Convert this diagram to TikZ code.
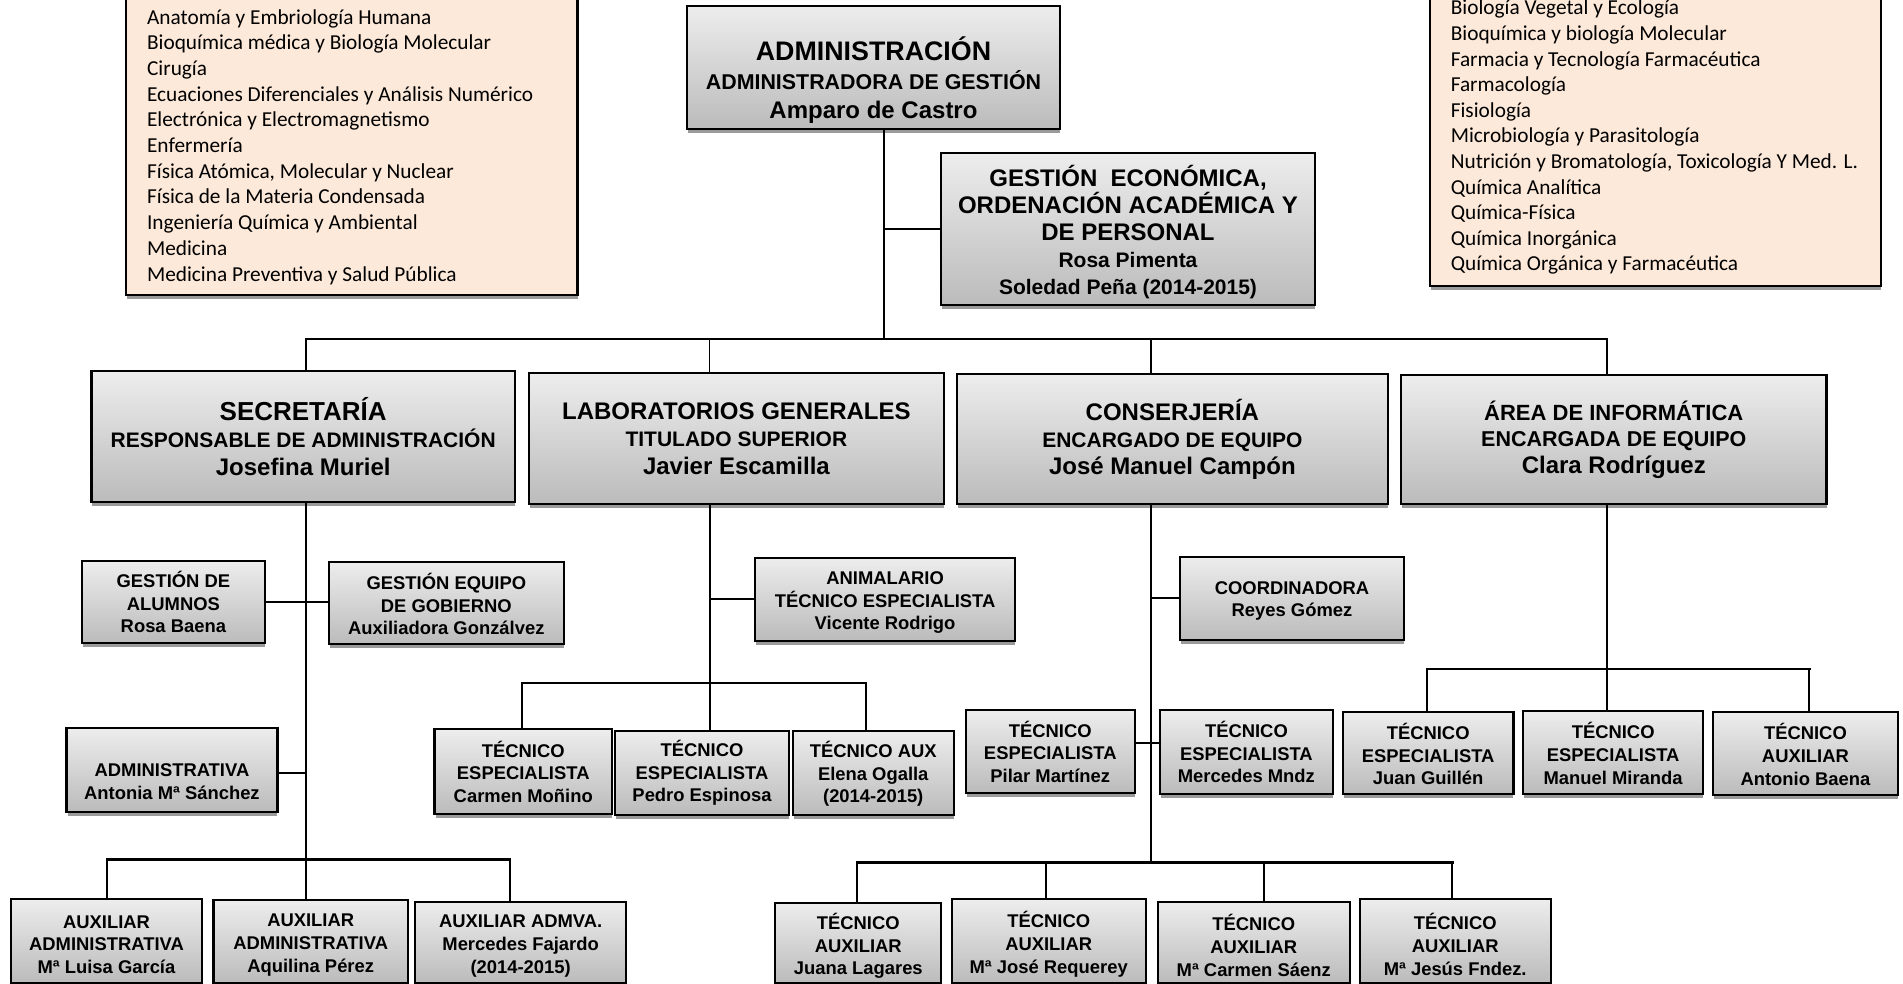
\documentclass[tikz,border=0pt]{standalone}
\usepackage{fontspec}
\setmainfont{Liberation Sans}
\newfontfamily\calibfont{Carlito}
\definecolor{peach}{HTML}{FDE9D9}
\definecolor{boxtop}{HTML}{EDEDED}
\definecolor{boxbot}{HTML}{BBBBBB}
\definecolor{shadowc}{HTML}{9A9A9A}
\newcommand{\SzTxt}[2]{{\fontsize{#1}{#1}\selectfont #2}}
% [text shift]{name}{x1}{y1}{x2}{y2}{text style}{text}
\newcommand{\orgnode}[8][0]{%
  \fill[shadowc] (#3+1,#6) rectangle (#5,#6+4);
  \node[orgbox, minimum width={#5-#3}, minimum height={#6-#4}] (#2) at ({(#3+#5)/2},{(#4+#6)/2}) {};
  \node[#7] (#2-t) at ({(#3+#5)/2},{(#4+#6)/2+#1}) {#8};
}
\tikzset{
  orgbox/.style={rectangle, draw=black, line width=2.2pt, top color=boxtop, bottom color=boxbot, inner sep=0pt},
  bigtext/.style={inner sep=0pt, align=center, font=\bfseries\fontsize{21}{27.5}\selectfont},
  smalltext/.style={inner sep=0pt, align=center, font=\bfseries\fontsize{18.4}{22.7}\selectfont},
  listbox/.style={rectangle, draw=black, line width=2.2pt, fill=peach, inner sep=0pt},
  conn/.style={line width=1.9pt, line cap=rect},
  busln/.style={line width=2.6pt, line cap=rect},
  listtext/.style={font=\calibfont\fontsize{21.3}{25.7}\selectfont, anchor=base west, inner sep=0pt},
}
\begin{document}
\begin{tikzpicture}[x=1pt,y=-1pt]
\useasboundingbox (0,0) rectangle (1903,984);
\fill[white] (0,0) rectangle (1903,984);

% peach lists
\fill[shadowc] (126.7,295) rectangle (577.5,299);
\node[listbox, minimum width=451.8, minimum height=325] (leftlist) at (351.6,132.5) {};
\foreach \t [count=\i] in {Anatomía y Embriología Humana, Bioquímica médica y Biología Molecular, Cirugía, Ecuaciones Diferenciales y Análisis Numérico, Electrónica y Electromagnetismo, Enfermería, {Física Atómica, Molecular y Nuclear}, Física de la Materia Condensada, Ingeniería Química y Ambiental, Medicina, Medicina Preventiva y Salud Pública}
  \node[listtext] (la\i) at (146.9,{24.1+25.7*(\i-1)}) {\t};

\fill[shadowc] (1430.8,286) rectangle (1881,290);
\node[listbox, minimum width=451.2, minimum height=316] (rightlist) at (1655.4,128) {};
\foreach \t [count=\i] in {Biología Vegetal y Ecología, Bioquímica y biología Molecular, Farmacia y Tecnología Farmacéutica, Farmacología, Fisiología, Microbiología y Parasitología, {Nutrición y Bromatología, Toxicología Y Med. L.}, Química Analítica, Química-Física, Química Inorgánica, Química Orgánica y Farmacéutica}
  \node[listtext] (ra\i) at (1450.6,{14.9+25.6*(\i-1)}) {\t};

% top level
\orgnode[13]{admin}{687}{6}{1060}{129}{bigtext, font=\bfseries\fontsize{21.4}{29}\selectfont}{\SzTxt{26.8}{ADMINISTRACIÓN}\\ ADMINISTRADORA DE GESTIÓN\\ \SzTxt{24}{Amparo de Castro}}
\orgnode[3]{gest}{941}{153}{1315}{305}{bigtext, font=\bfseries\fontsize{24}{27}\selectfont}{GESTIÓN\ \ ECONÓMICA,\\ ORDENACIÓN ACADÉMICA Y\\ DE PERSONAL\\ \SzTxt{21}{Rosa Pimenta}\\ \SzTxt{21}{Soledad Peña (2014-2015)}}

% second level
\orgnode{sec}{91.4}{371}{515}{502}{bigtext, font=\bfseries\fontsize{21}{27.6}\selectfont}{\SzTxt{26}{SECRETARÍA}\\ RESPONSABLE DE ADMINISTRACIÓN\\ \SzTxt{24}{Josefina Muriel}}
\orgnode{lab}{529.2}{373}{943.6}{504}{bigtext}{\SzTxt{24}{LABORATORIOS GENERALES}\\ TITULADO SUPERIOR\\ \SzTxt{24}{Javier Escamilla}}
\orgnode{cons}{957}{374}{1387.7}{504}{bigtext, font=\bfseries\fontsize{21}{27}\selectfont}{\SzTxt{24}{CONSERJERÍA}\\ ENCARGADO DE EQUIPO\\ \SzTxt{24}{José Manuel Campón}}
\orgnode{area}{1401}{375}{1826.5}{504}{bigtext, font=\bfseries\fontsize{21.5}{26.5}\selectfont}{\SzTxt{22}{ÁREA DE INFORMÁTICA}\\ ENCARGADA DE EQUIPO\\ \SzTxt{24}{Clara Rodríguez}}

% small boxes
\orgnode{galum}{81.6}{561}{265.2}{643.3}{smalltext}{GESTIÓN DE\\ ALUMNOS\\ Rosa Baena}
\orgnode[1]{gequipo}{328.8}{561.7}{563.9}{644.3}{smalltext}{GESTIÓN EQUIPO\\ DE GOBIERNO\\ Auxiliadora Gonzálvez}
\orgnode[3.5]{anim}{755.2}{557.7}{1015}{640.7}{smalltext}{ANIMALARIO\\ TÉCNICO ESPECIALISTA\\ Vicente Rodrigo}
\orgnode[2.5]{coord}{1180}{556.7}{1404}{640}{smalltext}{COORDINADORA\\ Reyes Gómez}
\orgnode[12]{admva}{66.5}{728.3}{277.4}{811.7}{smalltext}{ADMINISTRATIVA\\ Antonia Mª Sánchez}
\orgnode{carmen}{434.5}{729.3}{612}{814}{smalltext}{TÉCNICO\\ ESPECIALISTA\\ Carmen Moñino}
\orgnode{pedro}{615.3}{730.7}{788.7}{815}{smalltext}{TÉCNICO\\ ESPECIALISTA\\ Pedro Espinosa}
\orgnode[1]{elena}{792.7}{731}{953.8}{815}{smalltext}{TÉCNICO AUX\\ Elena Ogalla\\ (2014-2015)}
\orgnode{pilar}{965.9}{710}{1134.6}{793.3}{smalltext}{TÉCNICO\\ ESPECIALISTA\\ Pilar Martínez}
\orgnode{merc}{1160}{710}{1332.8}{794}{smalltext}{TÉCNICO\\ ESPECIALISTA\\ Mercedes Mndz}
\orgnode[1]{juan}{1342.9}{711.7}{1513.4}{794.3}{smalltext}{TÉCNICO\\ ESPECIALISTA\\ Juan Guillén}
\orgnode[1]{manuel}{1523}{711}{1703.3}{794}{smalltext}{TÉCNICO\\ ESPECIALISTA\\ Manuel Miranda}
\orgnode[1]{antonio}{1712.6}{711.7}{1898.2}{795}{smalltext}{TÉCNICO\\ AUXILIAR\\ Antonio Baena}
\orgnode[3.6]{aux1}{11}{899.3}{202}{982.7}{smalltext}{AUXILIAR\\ ADMINISTRATIVA\\ Mª Luisa García}
\orgnode[3.6]{aux2}{213.4}{900}{408}{983.3}{smalltext}{AUXILIAR\\ ADMINISTRATIVA\\ Aquilina Pérez}
\orgnode[3.6]{aux3}{415}{901.7}{626.3}{983.3}{smalltext}{AUXILIAR ADMVA.\\ Mercedes Fajardo\\ (2014-2015)}
\orgnode[3]{juana}{775.3}{902.7}{941.3}{983.3}{smalltext}{TÉCNICO\\ AUXILIAR\\ Juana Lagares}
\orgnode[3]{mjose}{951.6}{899.3}{1145.8}{983}{smalltext}{TÉCNICO\\ AUXILIAR\\ Mª José Requerey}
\orgnode[3]{mcarmen}{1157.8}{901.7}{1349.7}{983}{smalltext}{TÉCNICO\\ AUXILIAR\\ Mª Carmen Sáenz}
\orgnode[3]{mjesus}{1359.7}{899.3}{1550.7}{983.3}{smalltext}{TÉCNICO\\ AUXILIAR\\ Mª Jesús Fndez.}

% connectors: top
\coordinate (av) at (884,339);
\coordinate (bsec) at (306,339);
\coordinate (blab) at (709.5,339);
\coordinate (bcons) at (1151,339);
\coordinate (barea) at (1607,339);
\draw[conn] (av |- admin.south) -- (av);
\draw[conn] (av |- gest.west) -- (gest.west);
\draw[conn] (bsec) -- (barea);
\draw[conn] (bsec) -- (bsec |- sec.north);
\draw[conn] (blab) -- (blab |- lab.north);
\draw[conn] (bcons) -- (bcons |- cons.north);
\draw[conn] (barea) -- (barea |- area.north);

% secretaria column
\coordinate (ssec) at (306,859.3);
\coordinate (sadm) at (306,772.7);
\draw[conn] (ssec |- sec.south) -- (ssec |- aux2.north);
\draw[conn] (galum.east) -- (galum.east -| gequipo.west);
\draw[conn] (sadm -| admva.east) -- (sadm);
\coordinate (sa1) at (106.9,859.3);
\coordinate (sa3) at (510,859.3);
\draw[busln] (sa1) -- (sa3);
\draw[conn] (sa1) -- (sa1 |- aux1.north);
\draw[conn] (sa3) -- (sa3 |- aux3.north);

% laboratorios column
\coordinate (llab) at (710,682.8);
\draw[conn] (llab |- lab.south) -- (llab |- pedro.north);
\draw[conn] (llab |- anim.west) -- (anim.west);
\coordinate (ll1) at (522,682.8);
\coordinate (ll3) at (866,682.8);
\draw[busln] (ll1) -- (ll3);
\draw[conn] (ll1) -- (ll1 |- carmen.north);
\draw[conn] (ll3) -- (ll3 |- elena.north);

% conserjeria column
\coordinate (ccons) at (1151,862.7);
\draw[conn] (ccons |- cons.south) -- (ccons);
\draw[conn] (ccons |- coord.west) -- (coord.west);
\coordinate (cj) at (1151,743.3);
\draw[conn] (cj -| pilar.east) -- (cj -| merc.west);
\coordinate (cb1) at (857.4,862.7);
\coordinate (cb2) at (1046.2,862.7);
\coordinate (cb3) at (1264,862.7);
\coordinate (cb4) at (1452.4,862.7);
\draw[busln] (cb1) -- (cb4);
\draw[conn] (cb1) -- (cb1 |- juana.north);
\draw[conn] (cb2) -- (cb2 |- mjose.north);
\draw[conn] (cb3) -- (cb3 |- mcarmen.north);
\draw[conn] (cb4) -- (cb4 |- mjesus.north);

% informatica column
\coordinate (aa) at (1607,669);
\draw[conn] (aa |- area.south) -- (aa |- manuel.north);
\coordinate (ab1) at (1427.2,669);
\coordinate (ab3) at (1809.2,669);
\draw[busln] (ab1) -- (ab3);
\draw[conn] (ab1) -- (ab1 |- juan.north);
\draw[conn] (ab3) -- (ab3 |- antonio.north);
\end{tikzpicture}
\end{document}
